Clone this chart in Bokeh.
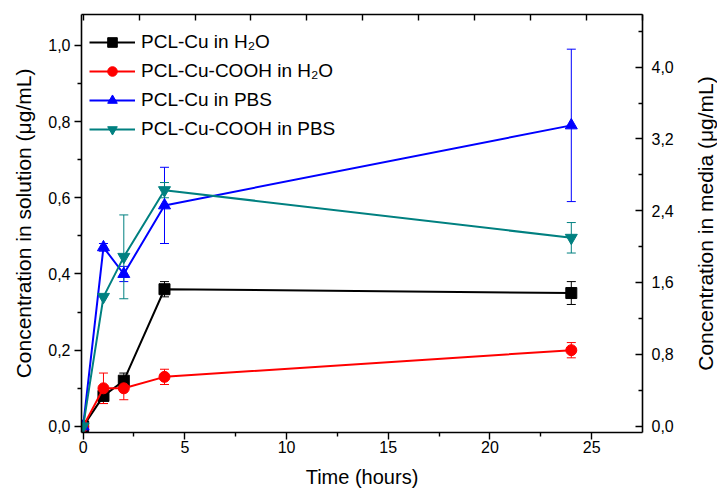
from bokeh.plotting import figure
from bokeh.layouts import row
from bokeh.models import (Range1d, LinearAxis, FixedTicker, CustomJSTickFormatter,
                          Whisker, TeeHead, ColumnDataSource, Legend, LegendItem)
from bokeh.embed import file_html
from bokeh.resources import INLINE

# ---- data ----
time_h = [0, 1, 2, 4, 24]
cu_h2o = [0.0, 0.08, 0.12, 0.36, 0.35]
cu_h2o_err = [0.0, 0.02, 0.02, 0.02, 0.03]
cooh_h2o = [0.0, 0.10, 0.10, 0.13, 0.20]
cooh_h2o_err = [0.0, 0.04, 0.03, 0.02, 0.02]
cu_pbs = [0.0, 0.47, 0.40, 0.58, 0.79]
cu_pbs_err = [0.0, 0.01, 0.02, 0.10, 0.20]
cooh_pbs = [0.0, 0.34, 0.445, 0.62, 0.495]
cooh_pbs_err = [0.0, 0.0, 0.11, 0.02, 0.04]

labels = ["PCL-Cu in H\u2082O", "PCL-Cu-COOH in H\u2082O", "PCL-Cu in PBS", "PCL-Cu-COOH in PBS"]
colors = ["black", "#FF0000", "#0000FF", "#008080"]
markers = ["square", "circle", "triangle", "inverted_triangle"]
msizes = [11, 11, 12, 12]

x_ticks = [0, 5, 10, 15, 20, 25]
x_minor = [2.5, 7.5, 12.5, 17.5, 22.5]
top_ticks = [0, 2.75, 5.5, 8.25, 11, 13.75, 16.5, 19.25, 22, 24.75, 27.5]
yl_ticks = [0.0, 0.2, 0.4, 0.6, 0.8, 1.0]
yl_minor = [0.1, 0.3, 0.5, 0.7, 0.9]
yr_ticks = [0.0, 0.8, 1.6, 2.4, 3.2, 4.0]
yr_minor = [0.4, 1.2, 2.0, 2.8, 3.6, 4.4]
right_title = "Concentration in media (\u03bcg/mL)"

FONT = "Liberation Sans"

p = figure(width=690, height=490, output_backend="svg", toolbar_location=None,
           x_range=Range1d(-0.08, 27.5), y_range=Range1d(-0.016, 1.081),
           min_border_left=81, min_border_right=48, min_border_top=14, min_border_bottom=58,
           x_axis_location=None, y_axis_location=None)
p.grid.visible = False
p.outline_line_color = None
p.background_fill_color = "white"
p.border_fill_color = "white"
p.extra_y_ranges = {"media": Range1d(-0.072, 4.587)}

comma = CustomJSTickFormatter(code="return tick.toFixed(1).replace('.', ',');")


def style(ax, tin, tout, min_in, min_out):
    ax.axis_line_width = 1.6
    ax.axis_line_color = "black"
    ax.major_tick_line_width = 1.4
    ax.minor_tick_line_width = 1.4
    ax.major_tick_line_color = "black"
    ax.minor_tick_line_color = "black"
    ax.major_tick_in = tin
    ax.major_tick_out = tout
    ax.minor_tick_in = min_in
    ax.minor_tick_out = min_out
    ax.major_label_text_font = FONT
    ax.major_label_text_font_size = "16px"
    ax.major_label_text_color = "black"
    ax.axis_label_text_font = FONT
    ax.axis_label_text_font_size = "20px"
    ax.axis_label_text_font_style = "normal"
    ax.axis_label_text_color = "black"


xb = LinearAxis(ticker=FixedTicker(ticks=x_ticks, minor_ticks=x_minor), axis_label="Time (hours)")
style(xb, 0, 7, 0, 4)
xb.major_label_standoff = 1
xb.axis_label_standoff = 10
p.add_layout(xb, "below")

# top frame line with inward ticks (minor ticks only, so no labels)
xt = LinearAxis(ticker=FixedTicker(ticks=[], minor_ticks=top_ticks))
style(xt, 0, 0, 6, 0)
p.add_layout(xt, "above")

yl = LinearAxis(ticker=FixedTicker(ticks=yl_ticks, minor_ticks=yl_minor), formatter=comma,
                axis_label="Concentration in solution (\u03bcg/mL)")
style(yl, 0, 7, 0, 4)
yl.axis_label_text_font_size = "21px"
yl.major_label_standoff = 4
yl.axis_label_standoff = 10
p.add_layout(yl, "left")

yr = LinearAxis(y_range_name="media", ticker=FixedTicker(ticks=yr_ticks, minor_ticks=yr_minor),
                formatter=comma)
style(yr, 7, 0, 4, 0)
yr.major_label_standoff = 9
p.add_layout(yr, "right")

series = [(cu_h2o, cu_h2o_err), (cooh_h2o, cooh_h2o_err), (cu_pbs, cu_pbs_err), (cooh_pbs, cooh_pbs_err)]
items = []
for (vals, errs), lab, col, mk, ms in zip(series, labels, colors, markers, msizes):
    src = ColumnDataSource(dict(x=time_h, y=vals))
    ex = [t for t, e in zip(time_h, errs) if e > 0]
    eu = [v + e for v, e in zip(vals, errs) if e > 0]
    el = [v - e for v, e in zip(vals, errs) if e > 0]
    esrc = ColumnDataSource(dict(x=ex, upper=eu, lower=el))
    w = Whisker(base="x", upper="upper", lower="lower", source=esrc,
                line_color=col, line_width=1,
                upper_head=TeeHead(size=9, line_color=col, line_width=1),
                lower_head=TeeHead(size=9, line_color=col, line_width=1))
    p.add_layout(w)
    ln = p.line("x", "y", source=src, line_color=col, line_width=2)
    sc = p.scatter("x", "y", source=src, marker=mk, size=ms, fill_color=col, line_color=col)
    items.append(LegendItem(label=lab, renderers=[ln, sc]))

legend = Legend(items=items, location=(8, 291), margin=0, padding=0, spacing=5,
                glyph_width=46, glyph_height=24, label_height=24, label_standoff=6,
                label_text_font=FONT, label_text_font_size="19px", label_text_color="black",
                border_line_color=None, background_fill_alpha=0)
p.add_layout(legend)

# narrow companion figure carrying the right-hand title (reads bottom to top)
p2 = figure(width=27, height=490, output_backend="svg", toolbar_location=None,
            x_range=Range1d(0, 1), y_range=Range1d(-0.072, 4.587),
            min_border_left=25, min_border_right=0, min_border_top=14, min_border_bottom=58,
            x_axis_location=None, y_axis_location=None)
p2.grid.visible = False
p2.outline_line_color = None
p2.border_fill_color = "white"
p2.background_fill_color = "white"
ya2 = LinearAxis(ticker=FixedTicker(ticks=[], minor_ticks=[]), axis_label=right_title)
ya2.axis_line_color = None
ya2.major_tick_out = 0
ya2.major_tick_in = 0
ya2.minor_tick_out = 0
ya2.minor_tick_in = 0
ya2.axis_label_standoff = 0
ya2.axis_label_text_font = FONT
ya2.axis_label_text_font_size = "21px"
ya2.axis_label_text_font_style = "normal"
ya2.axis_label_text_color = "black"
p2.add_layout(ya2, "left")

layout = row(p, p2, spacing=0)
open("out.html", "w").write(file_html(layout, INLINE))
